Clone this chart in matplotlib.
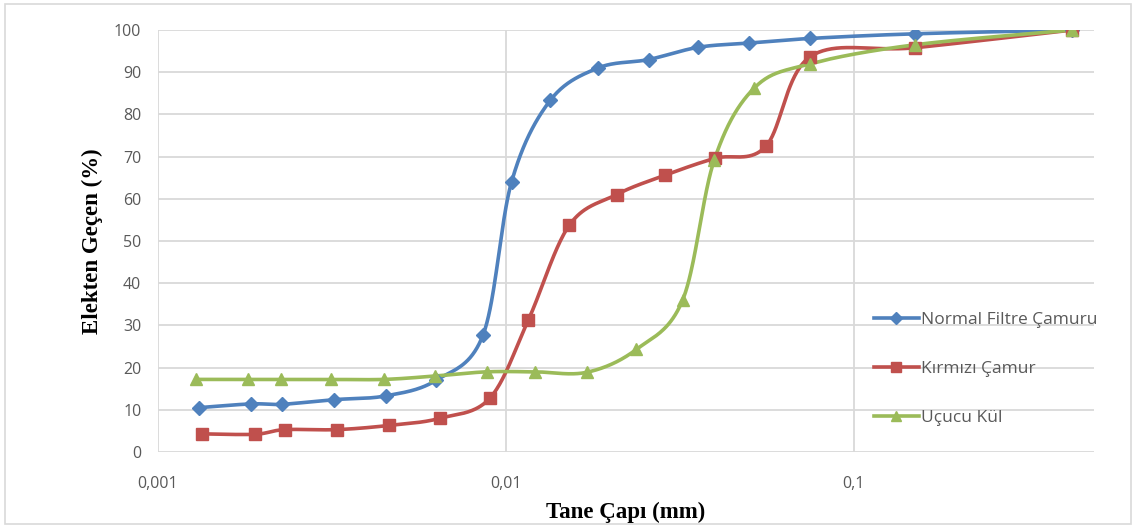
import numpy as np
import matplotlib
matplotlib.use("Agg")
import matplotlib.pyplot as plt
from matplotlib.lines import Line2D
from matplotlib.patches import Rectangle
from matplotlib.ticker import FixedLocator, FuncFormatter, NullLocator

# grain size (mm) and percent passing
d_normal = [0.00131, 0.00185, 0.00227, 0.0032, 0.00452, 0.0063, 0.0086, 0.01038,
            0.0134, 0.0184, 0.0257, 0.0357, 0.0498, 0.075, 0.15, 0.425]
p_normal = [10.5, 11.4, 11.3, 12.4, 13.3, 17.0, 27.8, 64.0,
            83.3, 91.0, 93.0, 95.9, 96.9, 98.0, 99.1, 100.0]

d_kirmizi = [0.00134, 0.0019, 0.00231, 0.00326, 0.00462, 0.00647, 0.0090, 0.0116,
             0.0152, 0.0208, 0.0287, 0.0399, 0.0558, 0.075, 0.15, 0.425]
p_kirmizi = [4.3, 4.2, 5.3, 5.3, 6.3, 8.0, 12.8, 31.3,
             53.7, 61.0, 65.6, 69.6, 72.4, 93.7, 95.8, 100.0]

d_ucucu = [0.00129, 0.00182, 0.00226, 0.00314, 0.00446, 0.00625, 0.0088, 0.0121,
           0.0171, 0.0237, 0.0322, 0.0397, 0.0518, 0.075, 0.15, 0.425]
p_ucucu = [17.2, 17.2, 17.2, 17.2, 17.2, 18.0, 19.0, 19.0,
           18.9, 24.3, 36.0, 69.2, 86.3, 92.0, 96.5, 100.0]

labels = ["Normal Filtre Çamuru", "Kırmızı Çamur", "Uçucu Kül"]
colors = ["#4F81BD", "#C0504D", "#9BBB59"]
markers = ["D", "s", "^"]
msizes = [7, 9, 9]


def smooth(x, y, n=40):
    """Catmull-Rom style bezier through the points, done in (log x, y) space"""
    lx = np.log10(x)
    y = np.asarray(y, dtype=float)
    P = np.column_stack([lx, y])
    P = np.vstack([P[0], P, P[-1]])
    out = []
    t = np.linspace(0, 1, n)[:, None]
    for i in range(1, len(P) - 2):
        p0, p1, p2, p3 = P[i - 1], P[i], P[i + 1], P[i + 2]
        c1 = p1 + (p2 - p0) / 6
        c2 = p2 - (p3 - p1) / 6
        seg = ((1 - t) ** 3) * p1 + 3 * ((1 - t) ** 2) * t * c1 + 3 * (1 - t) * t ** 2 * c2 + t ** 3 * p2
        out.append(seg)
    out = np.vstack(out)
    return 10 ** out[:, 0], out[:, 1]


fig = plt.figure(figsize=(11.34, 5.26), dpi=100)
ax = fig.add_axes([158 / 1134, 74 / 526, 936 / 1134, 422 / 526])

series = [(d_normal, p_normal), (d_kirmizi, p_kirmizi), (d_ucucu, p_ucucu)]
handles = []
for (d, p), lab, c, m, ms in zip(series, labels, colors, markers, msizes):
    sx, sy = smooth(d, p)
    ax.plot(sx, sy, color=c, lw=2.6, zorder=3, solid_capstyle="round")
    ax.plot(d, p, ls="none", marker=m, ms=ms, color=c, zorder=4)
    handles.append(Line2D([], [], color=c, lw=2.6, marker=m, ms=ms * 0.85, label=lab))

ax.set_xscale("log")
ax.set_xlim(0.001, 0.49)
ax.set_ylim(0, 100)
ax.xaxis.set_major_locator(FixedLocator([0.001, 0.01, 0.1]))
ax.xaxis.set_minor_locator(NullLocator())
ax.xaxis.set_major_formatter(FuncFormatter(lambda v, pos: f"{v:g}".replace(".", ",")))
ax.set_yticks(np.arange(0, 101, 10))

ax.grid(True, color="#D9D9D9", lw=1.3, zorder=0)
for s in ax.spines.values():
    s.set_visible(False)
ax.tick_params(length=0, labelsize=11.5, labelcolor="#595959")
for t in ax.get_xticklabels() + ax.get_yticklabels():
    t.set_family("Open Sans")
ax.tick_params(axis="x", pad=17)
ax.tick_params(axis="y", pad=12)

ax.set_xlabel("Tane Çapı (mm)", family="Liberation Serif", fontweight="bold", fontsize=16.5, labelpad=7)
ax.set_ylabel("Elekten Geçen (%)", family="Liberation Serif", fontweight="bold", fontsize=16.5, labelpad=8)

leg = ax.legend(handles=handles, loc="upper left", bbox_to_anchor=(858 / 1134, (526 - 296) / 526),
                bbox_transform=fig.transFigure, frameon=False, handlelength=2.6, handletextpad=0.15,
                labelspacing=1.9, prop={"family": "Open Sans", "size": 12.5})
for t in leg.get_texts():
    t.set_color("#595959")

fig.patches.append(Rectangle((5 / 1134, 2 / 526), 1126 / 1134, 520 / 526, transform=fig.transFigure,
                             fill=False, ec="#D9D9D9", lw=1.2))

fig.savefig("out.png", dpi=100)
